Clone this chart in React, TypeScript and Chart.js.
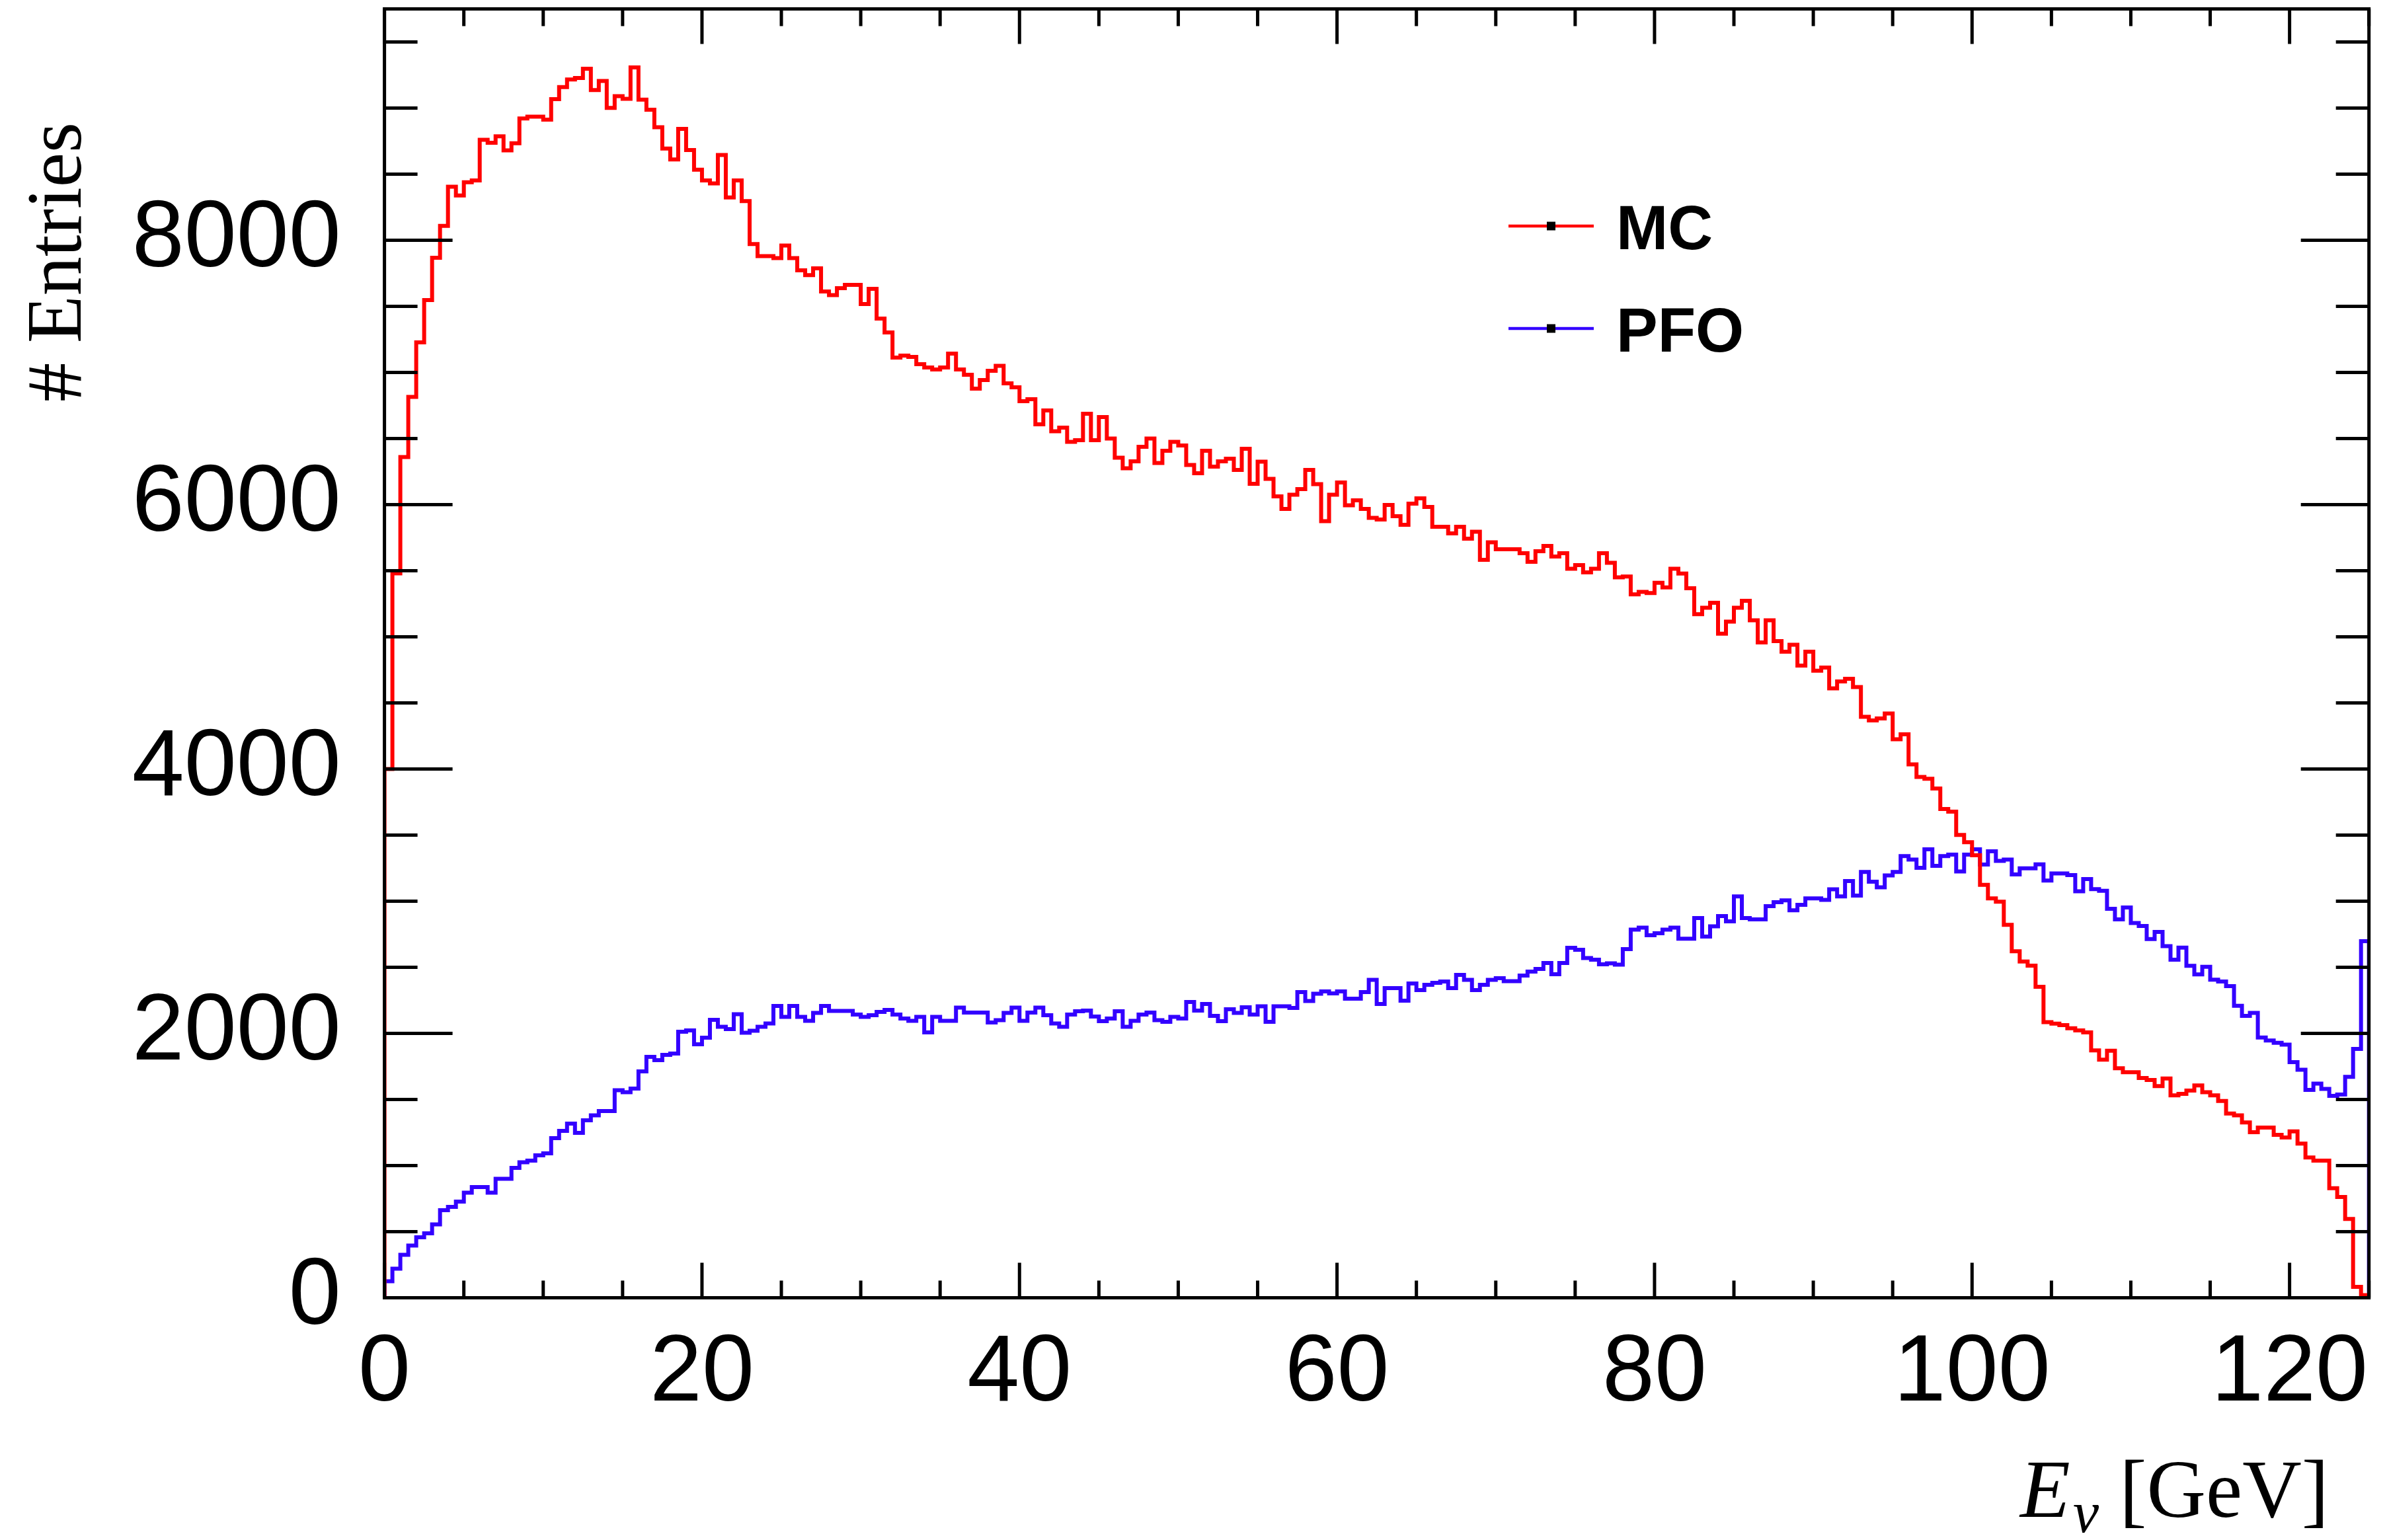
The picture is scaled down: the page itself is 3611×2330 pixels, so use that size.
import React, { useEffect, useRef } from "react";
import { Chart, registerables } from "chart.js";

Chart.register(...registerables);

// ---- axis definition ----
const X_MIN = 0;
const X_MAX = 125;
const BIN_WIDTH = 0.5; // GeV per bin
const Y_MIN = 0;
const Y_MAX = 9750;
const X_MAJOR_STEP = 20;
const X_MINOR_STEP = 5;
const Y_MAJOR_STEP = 2000;
const Y_MINOR_STEP = 500;
const xTickValues = [0, 20, 40, 60, 80, 100, 120];
const yTickValues = [0, 2000, 4000, 6000, 8000];

const seriesLabels = ["MC", "PFO"];
const seriesColors = ["#ff0000", "#3300ff"];
const xTitleMain = "E";
const xTitleSub = "\u03bd";
const xTitleUnit = "[GeV]";
const yTitle = "# Entries";

// ---- bin contents (250 bins of 0.5 GeV, 0..125 GeV) ----
const mcCounts = [
  4000, 5480, 6360, 6815, 7228, 7547, 7868, 8109, 8405, 8339,
  8439, 8453, 8760, 8737, 8786, 8680, 8734, 8921, 8935, 8935,
  8912, 9067, 9159, 9216, 9228, 9297, 9136, 9205, 9001, 9090,
  9070, 9308, 9064, 8987, 8855, 8694, 8611, 8843, 8683, 8534,
  8453, 8430, 8645, 8324, 8453, 8296, 7971, 7880, 7880, 7865,
  7960, 7865, 7773, 7736, 7788, 7612, 7585, 7637, 7662, 7662,
  7517, 7633, 7408, 7303, 7113, 7128, 7117, 7063, 7038, 7022,
  7038, 7142, 7022, 6982, 6878, 6942, 7012, 7050, 6917, 6888,
  6783, 6797, 6608, 6713, 6555, 6582, 6475, 6488, 6688, 6488,
  6663, 6500, 6355, 6275, 6328, 6437, 6500, 6315, 6408, 6475,
  6448, 6300, 6237, 6408, 6287, 6328, 6348, 6263, 6422, 6158,
  6325, 6195, 6062, 5967, 6075, 6117, 6262, 6155, 5875, 6075,
  6167, 5995, 6033, 5967, 5900, 5888, 5997, 5913, 5847, 6008,
  6048, 5982, 5833, 5833, 5782, 5833, 5742, 5795, 5582, 5715,
  5662, 5662, 5662, 5633, 5567, 5648, 5688, 5608, 5633, 5515,
  5542, 5488, 5515, 5633, 5560, 5450, 5456, 5321, 5340, 5331,
  5409, 5374, 5515, 5479, 5367, 5171, 5220, 5258, 5024, 5115,
  5220, 5273, 5125, 4957, 5125, 4967, 4888, 4940, 4782, 4888,
  4744, 4768, 4610, 4662, 4683, 4620, 4395, 4368, 4383, 4420,
  4225, 4263, 4035, 3940, 3926, 3852, 3698, 3677, 3501, 3446,
  3347, 3124, 3021, 2996, 2821, 2621, 2544, 2513, 2353, 2085,
  2074, 2062, 2039, 2022, 2008, 1871, 1801, 1869, 1736, 1706,
  1706, 1662, 1648, 1601, 1659, 1531, 1543, 1568, 1606, 1555,
  1531, 1489, 1394, 1380, 1326, 1252, 1287, 1287, 1233, 1212,
  1259, 1166, 1061, 1038, 1038, 829, 763, 596, 83, 20,
];

const pfoCounts = [
  125, 220, 325, 395, 458, 487, 555, 663, 687, 728,
  795, 837, 837, 795, 900, 900, 983, 1025, 1037, 1078,
  1092, 1208, 1262, 1317, 1247, 1342, 1380, 1412, 1412, 1570,
  1555, 1583, 1713, 1822, 1797, 1838, 1847, 2012, 2022, 1917,
  1967, 2103, 2050, 2033, 2145, 2005, 2020, 2050, 2075, 2208,
  2125, 2208, 2125, 2095, 2155, 2208, 2170, 2170, 2170, 2142,
  2125, 2137, 2162, 2178, 2142, 2112, 2095, 2125, 2008, 2125,
  2095, 2095, 2195, 2158, 2158, 2158, 2083, 2100, 2155, 2195,
  2095, 2158, 2195, 2137, 2075, 2050, 2142, 2167, 2172, 2128,
  2092, 2112, 2167, 2050, 2095, 2142, 2158, 2100, 2088, 2125,
  2112, 2238, 2172, 2222, 2133, 2092, 2183, 2155, 2197, 2142,
  2205, 2088, 2205, 2205, 2192, 2312, 2245, 2300, 2317, 2303,
  2317, 2263, 2263, 2312, 2405, 2222, 2342, 2342, 2247, 2378,
  2328, 2367, 2383, 2392, 2342, 2442, 2405, 2328, 2367, 2405,
  2417, 2395, 2395, 2438, 2467, 2488, 2533, 2447, 2533, 2648,
  2633, 2570, 2558, 2522, 2530, 2520, 2638, 2785, 2800, 2743,
  2758, 2785, 2800, 2716, 2716, 2873, 2732, 2810, 2888, 2848,
  3036, 2873, 2863, 2863, 2962, 2993, 3006, 2931, 2973, 3021,
  3021, 3010, 3090, 3036, 3153, 3042, 3221, 3147, 3105, 3195,
  3221, 3341, 3315, 3252, 3393, 3267, 3341, 3353, 3225, 3353,
  3393, 3277, 3378, 3305, 3315, 3202, 3249, 3249, 3279, 3156,
  3210, 3210, 3198, 3075, 3168, 3091, 3079, 2942, 2863, 2953,
  2835, 2812, 2714, 2767, 2660, 2558, 2649, 2511, 2446, 2504,
  2406, 2392, 2358, 2209, 2132, 2155, 1969, 1946, 1929, 1915,
  1783, 1725, 1573, 1620, 1580, 1527, 1538, 1671, 1883, 2697,
];

const seriesCounts = [mcCounts, pfoCounts];

// Build a ROOT-like histogram outline: start at 0, one point per bin low edge, close at upper edge.
function histPoints(counts: number[]) {
  const pts: { x: number; y: number }[] = [{ x: X_MIN, y: 0 }];
  counts.forEach((c, i) => pts.push({ x: X_MIN + i * BIN_WIDTH, y: c }));
  const xEnd = X_MIN + counts.length * BIN_WIDTH;
  pts.push({ x: xEnd, y: counts[counts.length - 1] });
  pts.push({ x: xEnd, y: 0 });
  return pts;
}

const SANS = "'Liberation Sans', Arial, Helvetica, sans-serif";
const SERIF = "'Liberation Serif', 'Times New Roman', Times, serif";
const FRAME_WIDTH = 5;
const HIST_WIDTH = 6;

const framePlugin = {
  id: "rootFrame",
  afterDatasetsDraw(chart: any) {
    const { ctx, chartArea: a, scales } = chart;
    const xs = scales.x;
    const ys = scales.y;
    ctx.save();
    ctx.strokeStyle = "#000";
    ctx.lineWidth = FRAME_WIDTH;
    ctx.lineCap = "butt";
    ctx.beginPath();
    for (let v = X_MIN; v <= X_MAX + 1e-9; v += X_MINOR_STEP) {
      const px = xs.getPixelForValue(v);
      const len = v % X_MAJOR_STEP === 0 ? 53 : 26;
      ctx.moveTo(px, a.bottom);
      ctx.lineTo(px, a.bottom - len);
      ctx.moveTo(px, a.top);
      ctx.lineTo(px, a.top + len);
    }
    for (let v = Y_MIN; v <= Y_MAX + 1e-9; v += Y_MINOR_STEP) {
      const py = ys.getPixelForValue(v);
      const len = v % Y_MAJOR_STEP === 0 ? 103 : 50;
      ctx.moveTo(a.left, py);
      ctx.lineTo(a.left + len, py);
      ctx.moveTo(a.right, py);
      ctx.lineTo(a.right - len, py);
    }
    ctx.stroke();
    ctx.lineJoin = "miter";
    ctx.strokeRect(a.left, a.top, a.right - a.left, a.bottom - a.top);

    // Legend (ROOT TLegend style, no border)
    const legX0 = 2282;
    const legX1 = 2411;
    const legRows = [342, 497];
    chart.data.datasets.forEach((ds: any, i: number) => {
      const yy = legRows[i];
      ctx.strokeStyle = ds.borderColor;
      ctx.lineWidth = 4.5;
      ctx.beginPath();
      ctx.moveTo(legX0, yy);
      ctx.lineTo(legX1, yy);
      ctx.stroke();
      ctx.fillStyle = "#000";
      ctx.fillRect((legX0 + legX1) / 2 - 6.5, yy - 6.5, 13, 13);
      ctx.font = `bold 94px ${SANS}`;
      ctx.textAlign = "left";
      ctx.textBaseline = "alphabetic";
      ctx.fillText(ds.label, 2445, yy + 35);
    });

    // Y title (rotated, aligned to the top)
    ctx.fillStyle = "#000";
    ctx.save();
    ctx.translate(122, 185);
    ctx.rotate(-Math.PI / 2);
    ctx.font = `118px ${SERIF}`;
    ctx.textAlign = "right";
    ctx.textBaseline = "alphabetic";
    ctx.fillText(yTitle, 0, 0);
    ctx.restore();

    // X title (aligned to the right)
    ctx.textBaseline = "alphabetic";
    ctx.font = `124px ${SERIF}`;
    ctx.textAlign = "right";
    ctx.fillText(xTitleUnit, 3523, 2295);
    ctx.textAlign = "left";
    ctx.font = `italic 124px ${SERIF}`;
    ctx.fillText(xTitleMain, 3056, 2295);
    ctx.font = `italic 88px ${SERIF}`;
    ctx.fillText(xTitleSub, 3136, 2318);
    ctx.restore();
  },
};

export default function App() {
  const ref = useRef<HTMLCanvasElement>(null);
  useEffect(() => {
    const canvas = ref.current;
    if (!canvas) return;
    const chart = new Chart(canvas, {
      type: "line",
      data: {
        datasets: seriesCounts.map((counts, i) => ({
          label: seriesLabels[i],
          data: histPoints(counts),
          borderColor: seriesColors[i],
          backgroundColor: seriesColors[i],
          borderWidth: HIST_WIDTH,
          stepped: "before",
          pointRadius: 0,
          pointHoverRadius: 0,
          fill: false,
          tension: 0,
          borderJoinStyle: "miter",
          borderCapStyle: "butt",
        })),
      },
      options: {
        responsive: false,
        maintainAspectRatio: false,
        animation: false,
        devicePixelRatio: 1,
        events: [],
        layout: { padding: { top: 13.5, right: 27.3, left: 0, bottom: 0 } },
        plugins: {
          legend: { display: false },
          tooltip: { enabled: false },
          title: { display: false },
        },
        scales: {
          x: {
            type: "linear",
            min: X_MIN,
            max: X_MAX,
            grid: { display: false, drawTicks: false },
            border: { display: false },
            afterBuildTicks: (s: any) => {
              s.ticks = xTickValues.map((v) => ({ value: v }));
            },
            ticks: {
              autoSkip: false,
              maxRotation: 0,
              minRotation: 0,
              padding: 31,
              color: "#000",
              font: { family: SANS, size: 142 },
              callback: (v: any) => String(v),
            },
            afterFit: (s: any) => {
              s.height = 366.5;
              s.paddingLeft = 0;
              s.paddingRight = 0;
              s.paddingTop = 0;
              s.paddingBottom = 0;
            },
          },
          y: {
            type: "linear",
            min: Y_MIN,
            max: Y_MAX,
            grid: { display: false, drawTicks: false },
            border: { display: false },
            afterBuildTicks: (s: any) => {
              s.ticks = yTickValues.map((v) => ({ value: v }));
            },
            ticks: {
              autoSkip: false,
              padding: 66,
              color: "#000",
              font: { family: SANS, size: 142 },
              callback: (v: any) => String(v),
            },
            afterFit: (s: any) => {
              s.width = 581.6;
              s.paddingLeft = 0;
              s.paddingRight = 0;
              s.paddingTop = 0;
              s.paddingBottom = 0;
            },
          },
        },
      } as any,
      plugins: [framePlugin],
    });
    return () => chart.destroy();
  }, []);
  return (
    <div style={{ position: "absolute", left: 0, top: 0, width: 3611, height: 2330, background: "#fff" }}>
      <canvas ref={ref} width={3611} height={2330} style={{ display: "block" }} />
    </div>
  );
}
